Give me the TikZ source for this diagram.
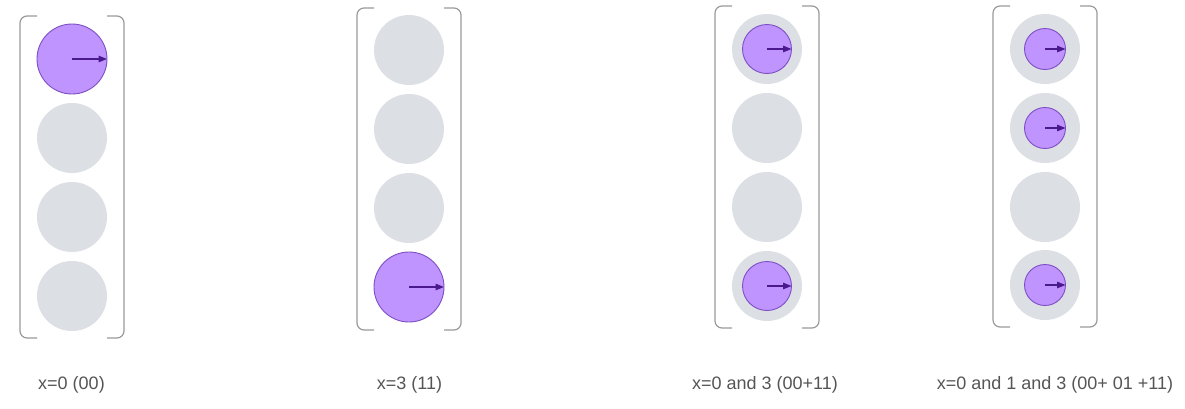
\documentclass[tikz,border=0pt]{standalone}
\usepackage{fontspec}
\setmainfont{Liberation Sans}
\usetikzlibrary{arrows.meta}
\definecolor{cgray}{HTML}{DCDFE4}
\definecolor{cpurple}{HTML}{BF94FF}
\definecolor{cpurpleline}{HTML}{7D4EC4}
\definecolor{carrow}{HTML}{4A1A8C}
\definecolor{cbracket}{HTML}{9A9A9A}
\definecolor{ctext}{HTML}{555555}
\tikzset{
  graycirc/.style={circle, fill=cgray, inner sep=0pt, outer sep=0pt, minimum size=70pt},
  bigpurple/.style={circle, fill=cpurple, draw=cpurpleline, line width=0.9pt, inner sep=0pt, outer sep=0pt, minimum size=70pt},
  midpurple/.style={circle, fill=cpurple, draw=cpurpleline, line width=0.9pt, inner sep=0pt, outer sep=0pt, minimum size=49pt},
  smallpurple/.style={circle, fill=cpurple, draw=cpurpleline, line width=0.9pt, inner sep=0pt, outer sep=0pt, minimum size=41pt},
  vecarrow/.style={draw=carrow, line width=1.2pt, -{Triangle[length=8.5pt,width=6.5pt]}},
  brack/.style={draw=cbracket, line width=1.2pt, rounded corners=7pt},
  lbl/.style={text=ctext, font=\fontsize{18}{21}\selectfont, inner sep=0pt, anchor=center}
}
\begin{document}
\begin{tikzpicture}[x=1pt,y=-1pt]
\useasboundingbox (0,0) rectangle (1185,408);
% ---------- column 1 ----------
\draw[brack] (37,16) -- (20,16) -- (20,338) -- (37,338);
\draw[brack] (107,16) -- (124,16) -- (124,338) -- (107,338);
\node[bigpurple] (a0) at (72,59) {};
\node[graycirc] (a1) at (72,138) {};
\node[graycirc] (a2) at (72,217) {};
\node[graycirc] (a3) at (72,296) {};
\draw[vecarrow] (a0.center) -- (a0.east);
\node[lbl] (la) at (71.5,385) {x=0 (00)};
% ---------- column 2 ----------
\draw[brack] (374,8) -- (357,8) -- (357,330) -- (374,330);
\draw[brack] (444,8) -- (461,8) -- (461,330) -- (444,330);
\node[graycirc] (b0) at (409,50) {};
\node[graycirc] (b1) at (409,129) {};
\node[graycirc] (b2) at (409,208) {};
\node[bigpurple] (b3) at (409,287) {};
\draw[vecarrow] (b3.center) -- (b3.east);
\node[lbl] (lb) at (409.5,385) {x=3 (11)};
% ---------- column 3 ----------
\draw[brack] (732,6) -- (715,6) -- (715,328) -- (732,328);
\draw[brack] (802,6) -- (819,6) -- (819,328) -- (802,328);
\node[graycirc] (c0) at (767,49) {};
\node[graycirc] (c1) at (767,128) {};
\node[graycirc] (c2) at (767,207) {};
\node[graycirc] (c3) at (767,286) {};
\node[midpurple] (c0i) at (c0) {};
\node[midpurple] (c3i) at (c3) {};
\draw[vecarrow] (c0i.center) -- (c0i.east);
\draw[vecarrow] (c3i.center) -- (c3i.east);
\node[lbl] (lc) at (765,385) {x=0 and 3 (00+11)};
% ---------- column 4 ----------
\draw[brack] (1010,6) -- (993,6) -- (993,327) -- (1010,327);
\draw[brack] (1080,6) -- (1097,6) -- (1097,327) -- (1080,327);
\node[graycirc] (d0) at (1045,49) {};
\node[graycirc] (d1) at (1045,128) {};
\node[graycirc] (d2) at (1045,207) {};
\node[graycirc] (d3) at (1045,285) {};
\node[smallpurple] (d0i) at (d0) {};
\node[smallpurple] (d1i) at (d1) {};
\node[smallpurple] (d3i) at (d3) {};
\draw[vecarrow] (d0i.center) -- (d0i.east);
\draw[vecarrow] (d1i.center) -- (d1i.east);
\draw[vecarrow] (d3i.center) -- (d3i.east);
\node[lbl] (ld) at (1055,385) {x=0 and 1 and 3 (00+ 01 +11)};
\end{tikzpicture}
\end{document}
